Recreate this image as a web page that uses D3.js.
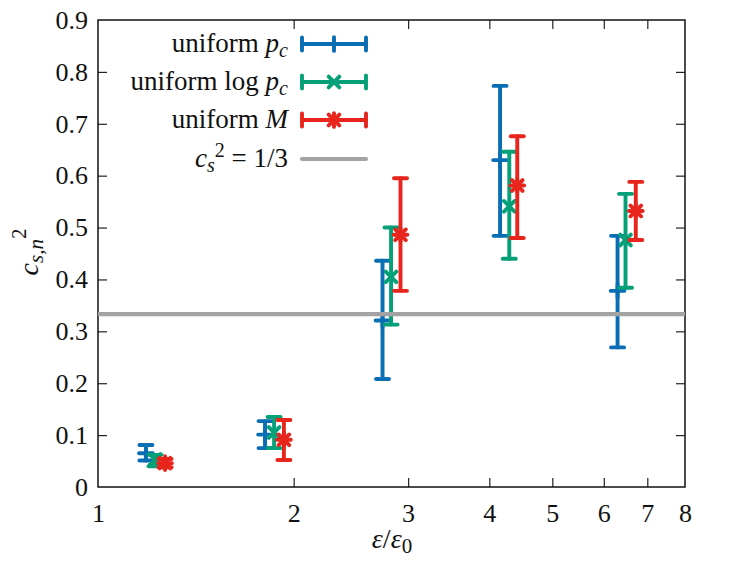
<!DOCTYPE html>
<html>
<head>
<meta charset="utf-8">
<script src="https://cdn.jsdelivr.net/npm/d3@7"></script>
<style>
  body { margin: 0; background: #fff; }
</style>
</head>
<body>
<svg id="chart" width="747" height="561"></svg>
<script>
// tick values
const xTicks = [1, 2, 3, 4, 5, 6, 7, 8];
const yTicks = [0, 0.1, 0.2, 0.3, 0.4, 0.5, 0.6, 0.7, 0.8, 0.9];

// uniform p_c
const pcX = [1.185, 1.807, 2.74, 4.155, 6.30];
const pcY = [0.065, 0.101, 0.321, 0.630, 0.378];
const pcLo = [0.051, 0.075, 0.208, 0.484, 0.269];
const pcHi = [0.081, 0.127, 0.436, 0.773, 0.484];

// uniform log p_c
const logPcX = [1.224, 1.866, 2.824, 4.293, 6.48];
const logPcY = [0.053, 0.105, 0.405, 0.541, 0.476];
const logPcLo = [0.040, 0.075, 0.313, 0.440, 0.384];
const logPcHi = [0.062, 0.135, 0.500, 0.646, 0.565];

// uniform M
const mX = [1.268, 1.932, 2.92, 4.416, 6.72];
const mY = [0.046, 0.091, 0.486, 0.581, 0.532];
const mLo = [0.038, 0.052, 0.378, 0.480, 0.476];
const mHi = [0.054, 0.129, 0.595, 0.676, 0.588];

const csRef = 1 / 3;

const FONT = '"Liberation Serif"';

const margin = { left: 98, right: 62, top: 20, bottom: 74 };
const width = 747, height = 561;

const xScale = d3.scaleLog().domain([1, 8]).range([margin.left, width - margin.right]);
const yScale = d3.scaleLinear().domain([0, 0.9]).range([height - margin.bottom, margin.top]);

const svg = d3.select('#chart');

const zip = (xs, ys, lo, hi) => xs.map((x, i) => ({ x, y: ys[i], lo: lo[i], hi: hi[i] }));
const series = [
    { name: 'pc', color: '#0a6eb4', marker: ['plus'], data: zip(pcX, pcY, pcLo, pcHi) },
    { name: 'logpc', color: '#05a078', marker: ['times'], data: zip(logPcX, logPcY, logPcLo, logPcHi) },
    { name: 'M', color: '#e8251c', marker: ['plus', 'times'], data: zip(mX, mY, mLo, mHi) },
];

const symbols = {
    plus: d3.symbol(d3.symbolPlus, 64),
    times: d3.symbol(d3.symbolTimes, 76),
};

// axes with inward ticks on all sides
const tickLen = 9;
const axisBottom = d3.axisBottom(xScale).tickValues(xTicks).tickFormat(d3.format('d')).tickSizeInner(-tickLen).tickSizeOuter(0).tickPadding(17);
const axisTop = d3.axisTop(xScale).tickValues(xTicks).tickFormat('').tickSizeInner(-tickLen).tickSizeOuter(0);
const axisLeft = d3.axisLeft(yScale).tickValues(yTicks).tickFormat((d) => d === 0 ? '0' : d3.format('.1f')(d)).tickSizeInner(-tickLen).tickSizeOuter(0).tickPadding(10);
const axisRight = d3.axisRight(yScale).tickValues(yTicks).tickFormat('').tickSizeInner(-tickLen).tickSizeOuter(0);

const gB = svg.append('g').attr('transform', `translate(0,${height - margin.bottom})`).call(axisBottom);
const gT = svg.append('g').attr('transform', `translate(0,${margin.top})`).call(axisTop);
const gL = svg.append('g').attr('transform', `translate(${margin.left},0)`).call(axisLeft);
const gR = svg.append('g').attr('transform', `translate(${width - margin.right},0)`).call(axisRight);
[gB, gT, gL, gR].forEach((g) => {
    g.attr('font-family', null).attr('font-size', null);
    g.select('.domain').remove();
    g.selectAll('line').attr('stroke', '#222').attr('stroke-width', 1.2);
    g.selectAll('text').attr('fill', '#111')
        .style('font-family', FONT).style('font-size', '26px');
});
// hide first/last ticks that sit on the frame
gB.selectAll('.tick').filter((d) => d === 1 || d === 8).select('line').remove();
gT.selectAll('.tick').filter((d) => d === 1 || d === 8).select('line').remove();
gL.selectAll('.tick').filter((d) => d === 0 || d === 0.9).select('line').remove();
gR.selectAll('.tick').filter((d) => d === 0 || d === 0.9).select('line').remove();

// frame
svg.append('rect')
    .attr('x', margin.left).attr('y', margin.top)
    .attr('width', width - margin.left - margin.right)
    .attr('height', height - margin.top - margin.bottom)
    .attr('fill', 'none').attr('stroke', '#111').attr('stroke-width', 1.5);

// error bars and markers
const cap = 6.5;
const lw = 3.9;
series.forEach((s) => {
    const g = svg.append('g').attr('stroke', s.color).attr('stroke-width', lw)
        .attr('stroke-linecap', 'round').attr('fill', 'none');
    const pts = g.selectAll('g.pt').data(s.data).join('g').attr('class', 'pt');
    pts.append('line')
        .attr('x1', (d) => xScale(d.x)).attr('x2', (d) => xScale(d.x))
        .attr('y1', (d) => yScale(d.lo)).attr('y2', (d) => yScale(d.hi));
    ['lo', 'hi'].forEach((k) => {
        pts.append('line')
            .attr('x1', (d) => xScale(d.x) - cap).attr('x2', (d) => xScale(d.x) + cap)
            .attr('y1', (d) => yScale(d[k])).attr('y2', (d) => yScale(d[k]));
    });
    s.marker.forEach((m) => {
        pts.append('path')
            .attr('d', symbols[m]())
            .attr('transform', (d) => `translate(${xScale(d.x)},${yScale(d.y)})`);
    });
});

// reference line c_s^2 = 1/3
svg.append('line')
    .attr('x1', margin.left).attr('x2', width - margin.right)
    .attr('y1', yScale(csRef)).attr('y2', yScale(csRef))
    .attr('stroke', '#a3a3a3').attr('stroke-width', 4.2);

// legend
const legX0 = 302, legX1 = 366, legTextX = 288;
const legY = [44, 82, 120, 159];
series.forEach((s, i) => {
    const y = legY[i];
    const g = svg.append('g').attr('stroke', s.color).attr('stroke-width', lw)
        .attr('stroke-linecap', 'round').attr('fill', 'none');
    g.append('line').attr('x1', legX0).attr('x2', legX1).attr('y1', y).attr('y2', y);
    [legX0, legX1].forEach((x) => g.append('line').attr('x1', x).attr('x2', x).attr('y1', y - cap).attr('y2', y + cap));
    const mx = (legX0 + legX1) / 2;
    s.marker.forEach((m) => g.append('path').attr('d', symbols[m]()).attr('transform', `translate(${mx},${y})`));
});
svg.append('line')
    .attr('x1', legX0).attr('x2', legX1).attr('y1', legY[3]).attr('y2', legY[3])
    .attr('stroke', '#a3a3a3').attr('stroke-width', 4.2).attr('stroke-linecap', 'round');

function label(x, y, size, anchor) {
    return svg.append('text').attr('x', x).attr('y', y)
        .attr('text-anchor', anchor).attr('fill', '#111')
        .style('font-family', FONT).style('font-size', size + 'px');
}
function span(t, txt, opts = {}) {
    const s = t.append('tspan').text(txt);
    if (opts.italic) s.style('font-style', 'italic');
    if (opts.size) s.style('font-size', opts.size + 'px');
    if (opts.dy) s.attr('dy', opts.dy);
    return s;
}

const legFont = 27;
let t = label(legTextX, legY[0] + 8, legFont, 'end');
span(t, 'uniform ');
span(t, 'p', { italic: true });
span(t, 'c', { italic: true, size: 20, dy: 5 });

t = label(legTextX, legY[1] + 8, legFont, 'end');
span(t, 'uniform log ');
span(t, 'p', { italic: true });
span(t, 'c', { italic: true, size: 20, dy: 5 });

t = label(legTextX, legY[2] + 8, legFont, 'end');
span(t, 'uniform ');
span(t, 'M', { italic: true });

t = label(legTextX, legY[3] + 8, legFont, 'end');
span(t, 'c', { italic: true });
span(t, 's', { italic: true, size: 20, dy: 5 });
span(t, '2', { size: 20, dy: -15 });
span(t, ' = 1/3', { dy: 10 });

// x label
const xl = label(392, 548, 28, 'middle');
span(xl, 'ε', { italic: true });
span(xl, '/');
span(xl, 'ε', { italic: true });
span(xl, '0', { size: 21, dy: 5 });

// y label
const yl = label(0, 0, 28, 'middle').attr('transform', 'translate(38,252) rotate(-90)');
span(yl, 'c', { italic: true });
span(yl, 's,n', { italic: true, size: 21, dy: 5 });
span(yl, '2', { size: 21, dy: -17 });
</script>
</body>
</html>
